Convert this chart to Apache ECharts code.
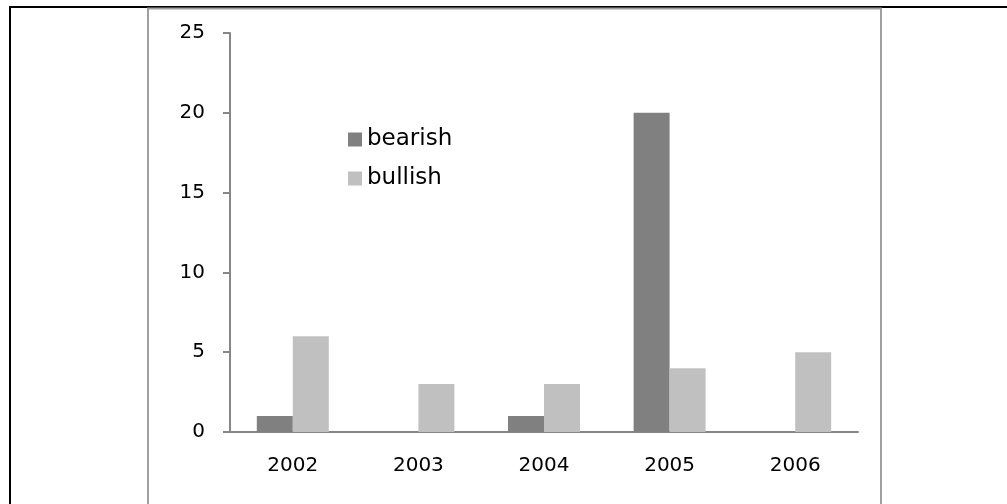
<!DOCTYPE html>
<html>
<head>
<meta charset="utf-8">
<script src="https://cdn.jsdelivr.net/npm/echarts@6/dist/echarts.min.js"></script>
<style>
html,body{margin:0;padding:0;background:#fff;}
#c{width:1007px;height:504px;}
</style>
</head>
<body>
<div id="c"></div>
<script>
const categories = ['2002', '2003', '2004', '2005', '2006'];
const bearish = [1, 0, 1, 20, 0];
const bullish = [6, 3, 3, 4, 5];
const seriesNames = ['bearish', 'bullish'];

const chart = echarts.init(document.getElementById('c'), null, {renderer: 'canvas'});
const font = 'DejaVu Sans, Verdana, sans-serif';
chart.setOption({
  animation: false,
  backgroundColor: '#ffffff',
  graphic: [
    {type: 'rect', shape: {x: 9, y: 6, width: 1000, height: 2}, style: {fill: '#000'}, silent: true},
    {type: 'rect', shape: {x: 9, y: 6, width: 2, height: 500}, style: {fill: '#000'}, silent: true},
    {type: 'rect', shape: {x: 148, y: 8.5, width: 733, height: 510}, style: {fill: 'none', stroke: '#a0a0a0', lineWidth: 2}, silent: true}
  ],
  grid: {left: 230, right: 149, top: 33, bottom: 72, containLabel: false},
  legend: {
    orient: 'vertical',
    left: 348,
    top: 128,
    padding: 0,
    itemWidth: 14,
    itemHeight: 14,
    itemGap: 16,
    icon: 'rect',
    textStyle: {fontFamily: font, fontSize: 23, color: '#000'},
    data: seriesNames
  },
  xAxis: {
    type: 'category',
    data: categories,
    axisLine: {lineStyle: {color: '#868686', width: 2}},
    axisTick: {length: 6, lineStyle: {color: '#868686', width: 2}},
    axisLabel: {fontFamily: font, fontSize: 20, color: '#000', margin: 24}
  },
  yAxis: {
    type: 'value',
    min: 0,
    max: 25,
    interval: 5,
    splitLine: {show: false},
    axisLine: {show: true, lineStyle: {color: '#868686', width: 2}},
    axisTick: {show: true, length: 7, lineStyle: {color: '#868686', width: 2}},
    axisLabel: {fontFamily: font, fontSize: 20, color: '#000', margin: 25}
  },
  series: [
    {name: seriesNames[0], type: 'bar', data: bearish, barGap: '0%', barCategoryGap: '42.7%',
     itemStyle: {color: '#808080'}},
    {name: seriesNames[1], type: 'bar', data: bullish, barGap: '0%', barCategoryGap: '42.7%',
     itemStyle: {color: '#c0c0c0'}}
  ]
});
</script>
</body>
</html>
